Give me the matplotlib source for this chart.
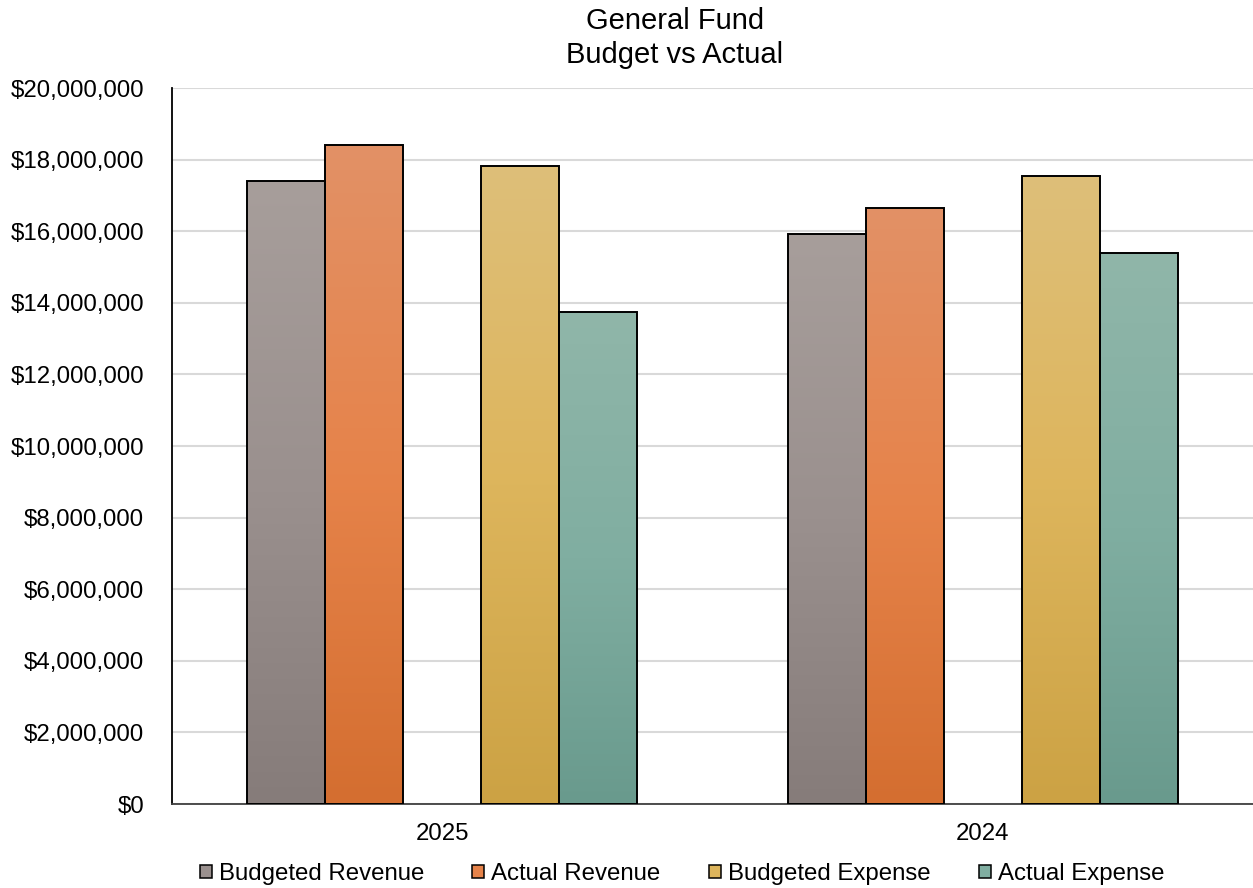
import matplotlib
matplotlib.use("Agg")
import matplotlib.pyplot as plt
import numpy as np
from matplotlib.patches import Patch
from matplotlib.colors import LinearSegmentedColormap
from matplotlib.ticker import FuncFormatter

plt.rcParams['font.family'] = ['Liberation Sans', 'DejaVu Sans']

categories = ["2025", "2024"]
series_names = ["Budgeted Revenue", "Actual Revenue", "Budgeted Expense", "Actual Expense"]
budgeted_revenue = [17_400_000, 15_920_000]
actual_revenue = [18_400_000, 16_650_000]
budgeted_expense = [17_820_000, 17_540_000]
actual_expense = [13_740_000, 15_390_000]
series_values = [budgeted_revenue, actual_revenue, budgeted_expense, actual_expense]

# gradient stops per series: top, middle, bottom
gradients = [
    ["#A79E9B", "#9A908E", "#867C7A"],
    ["#E29166", "#E6834A", "#D46E30"],
    ["#DEBF79", "#DDB55C", "#CCA244"],
    ["#90B6A9", "#80AEA1", "#699A8D"],
]
slot_positions = [-2, -1, 1, 2]  # one empty slot in the middle of each group

W, H = 1253, 888
fig = plt.figure(figsize=(W / 100, H / 100), dpi=100)
ax = fig.add_axes([172 / W, (H - 804) / H, 1081 / W, 716 / H])

bar_w = 0.1443
x = np.arange(len(categories))
grad = np.linspace(1, 0, 256).reshape(-1, 1)

for vals, stops, slot in zip(series_values, gradients, slot_positions):
    cmap = LinearSegmentedColormap.from_list("g", stops[::-1])
    bars = ax.bar(x + slot * bar_w, vals, width=bar_w, facecolor="none",
                  edgecolor="black", linewidth=1.4, zorder=3)
    for b in bars:
        x0, y0 = b.get_x(), b.get_y()
        w, h = b.get_width(), b.get_height()
        im = ax.imshow(grad[::-1], cmap=cmap, aspect="auto", origin="lower",
                       extent=[x0, x0 + w, y0, y0 + h], zorder=2,
                       interpolation="bilinear", vmin=0, vmax=1)
        im.set_clip_path(b)

ax.set_xlim(-0.5, 1.5)
ax.set_ylim(0, 20_000_000)
ax.set_yticks(np.arange(0, 20_000_001, 2_000_000))
ax.yaxis.set_major_formatter(FuncFormatter(lambda v, p: f"${v:,.0f}"))
ax.set_xticks(x)
ax.set_xticklabels(categories)
ax.tick_params(axis="both", length=0, labelsize=17.3, colors="black")
ax.tick_params(axis="x", pad=14)
ax.tick_params(axis="y", pad=20)
ax.grid(axis="y", color="#D9D9D9", linewidth=1.5, zorder=0)
ax.set_axisbelow(True)
for s in ["top", "right"]:
    ax.spines[s].set_visible(False)
ax.spines["left"].set_linewidth(1.3)
ax.spines["bottom"].set_linewidth(1.3)
ax.spines["bottom"].set_color("#404040")

fig.text(675 / W, 1 - 21 / H, "General Fund", ha="center", va="center", fontsize=21)
fig.text(675 / W, 1 - 55 / H, "Budget vs Actual", ha="center", va="center", fontsize=21)

handles = [Patch(facecolor=g[1], edgecolor="black", linewidth=1.1) for g in gradients]
fig.legend(handles, series_names, loc="center", bbox_to_anchor=(682 / W, 1 - 874 / H),
           ncol=4, frameon=False, fontsize=17.3, handlelength=0.5, handleheight=0.5,
           handletextpad=0.3, columnspacing=2.0, borderaxespad=0)

fig.savefig("out.png", dpi=100)
